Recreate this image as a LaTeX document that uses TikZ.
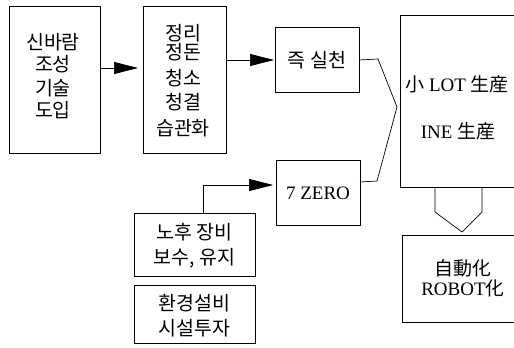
\documentclass[tikz,border=0pt]{standalone}
\usepackage{fontspec}
\setmainfont{Liberation Serif}
\newfontfamily\kr{Noto Sans CJK KR}
\usetikzlibrary{arrows.meta}
\begin{document}
\begin{tikzpicture}[x=1pt,y=-1pt,
  bx/.style={draw,line width=0.8pt},
  tx/.style={align=center,inner sep=0pt,font=\kr\fontsize{19.5}{24}\selectfont},
  lt/.style={inner sep=0pt,font=\fontsize{19}{22}\selectfont},
  arr/.style={line width=0.7pt,-{Triangle[length=24pt,width=12pt]}},
  ln/.style={line width=0.7pt}]
\useasboundingbox (0,0) rectangle (514,348);
\fill[white] (0,0) rectangle (514,348);
\clip (0,0) rectangle (514,348);
% boxes
\draw[bx] (9,6) rectangle (100,153);
\node[tx] (b1a) at (53,42) {신바람};
\node[tx] (b1b) at (53,64) {조성};
\node[tx] (b1c) at (53,88) {기술};
\node[tx] (b1d) at (53,110) {도입};
\draw[bx] (143,6) rectangle (226,153);
\node[tx] (b2a) at (183,33) {정리};
\node[tx] (b2b) at (183,52) {정돈};
\node[tx] (b2c) at (183,78) {청소};
\node[tx] (b2d) at (183,102) {청결};
\node[tx] (b2e) at (183,128) {습관화};
\draw[bx] (275,27) rectangle (359,92);
\node[tx] (b3) at (317,60) {즉 실천};
\draw[bx] (276,160) rectangle (360,225);
\node[lt] (b4) at (318,193) {7 ZERO};
\draw[bx] (134,213) rectangle (255,276);
\node[tx] (b5a) at (194.5,232) {노후 장비};
\node[tx] (b5b) at (194.5,258) {보수, 유지};
\draw[bx] (134,285) rectangle (255,343);
\node[tx] (b6a) at (194.5,303) {환경설비};
\node[tx] (b6b) at (194.5,328) {시설투자};
\draw[bx] (400,15) -- (400,187) -- (520,187);
\draw[bx] (400,15) -- (520,15);
\node[lt] (b7) at (457,84) {{\kr 小} LOT {\kr 生産}};
\node[lt] (b8) at (458,131) {INE {\kr 生産}};
\draw[bx] (520,235) -- (402,235) -- (402,322) -- (520,322);
\node[lt] (b9a) at (463,268) {\kr 自動化};
\node[lt] (b9b) at (463,288) {ROBOT{\kr 化}};
% arrows
\coordinate (a1s) at (100,68);
\coordinate (a1e) at (138,68);
\draw[arr] (a1s) -- (a1e);
\coordinate (a2s) at (226,60);
\coordinate (a2e) at (274,60);
\draw[arr] (a2s) -- (a2e);
\coordinate (a3s) at (203,213);
\coordinate (a3m) at (203,185);
\coordinate (a3e) at (273,185);
\draw[arr] (a3s) -- (a3m) -- (a3e);
% converging lines
\coordinate (m) at (397,107);
\draw[ln] (359,60) -- (378,59) -- (m);
\draw[ln] (360,182) -- (377,181) -- (m);
% down pointer
\draw[ln] (435,187) -- (435,212) -- (462,232) -- (482,212) -- (482,187);
\end{tikzpicture}
\end{document}
